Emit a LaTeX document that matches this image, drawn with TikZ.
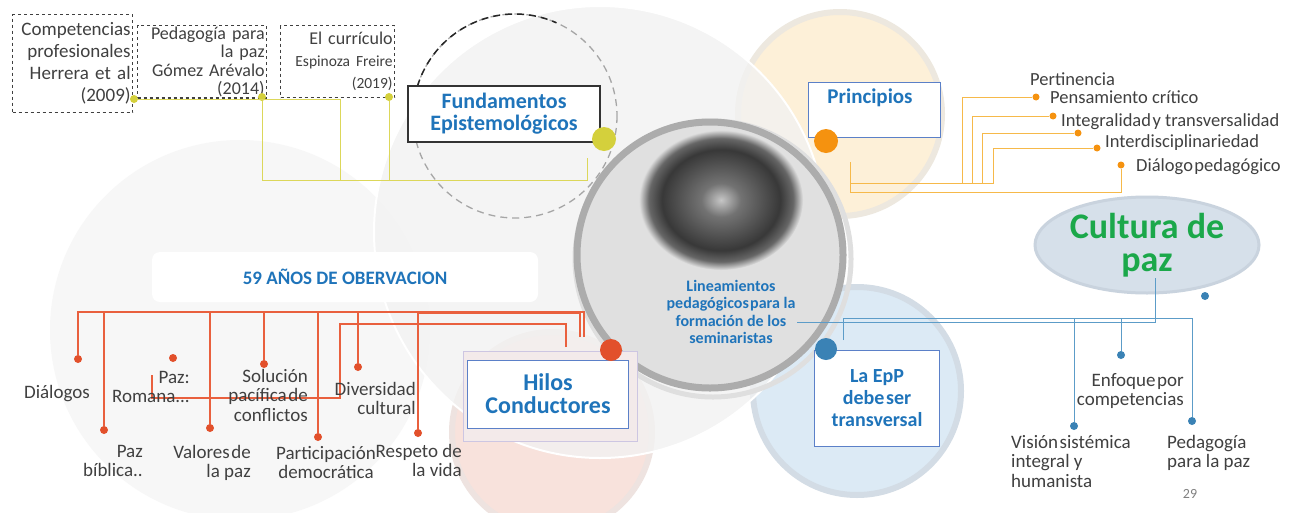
\documentclass[tikz,border=0pt]{standalone}
\usepackage{fontspec}
\setmainfont{Carlito}
\usetikzlibrary{positioning,shapes.geometric}
\definecolor{ttl}{HTML}{1F74BA}
\definecolor{txt}{HTML}{404040}
\definecolor{ylw}{HTML}{D4D03C}
\definecolor{ylwline}{HTML}{DCD75A}
\definecolor{org}{HTML}{F5920F}
\definecolor{orgline}{HTML}{F6B94A}
\definecolor{rd}{HTML}{E2502B}
\definecolor{rdline}{HTML}{E9603E}
\definecolor{bl}{HTML}{3A82B5}
\definecolor{blline}{HTML}{5C9CC8}
\definecolor{grn}{HTML}{1BA84A}
\definecolor{boxblue}{HTML}{5B80C8}
\definecolor{peach}{HTML}{FDF0D8}
\definecolor{peachring}{HTML}{EDE8DF}
\definecolor{sky}{HTML}{DCEAF5}
\definecolor{skyring}{HTML}{D3DCE5}
\definecolor{blush}{HTML}{F8E2DC}
\definecolor{blushring}{HTML}{EEE3E0}
\definecolor{fog}{HTML}{F2F2F2}
\definecolor{cgray}{HTML}{E0E0E0}
\definecolor{lilac}{HTML}{CDC6E2}
\definecolor{hiloback}{HTML}{F3EAEA}
\definecolor{cultfill}{HTML}{D6E0EA}
\definecolor{cultring}{HTML}{C9D3DE}
\pgfdeclareradialshading{photo}{\pgfpoint{0bp}{0bp}}{color(0bp)=(gray!45);color(6bp)=(black!55);color(18bp)=(black!78);color(22bp)=(black!60);color(25bp)=(cgray);color(50bp)=(cgray)}
\newcommand\ns{\hspace{0.08em}}
\begin{document}
\begin{tikzpicture}[x=1pt,y=-1pt,
  lbl/.style={text=txt,font=\fontsize{19}{19.5}\selectfont,inner sep=0pt},
  ttlbox/.style={draw=boxblue,fill=white,line width=1pt,text=ttl,font=\bfseries\fontsize{22}{23}\selectfont,align=center},
  refbox/.style={draw=black!75,dashed,line width=1.3pt,text=txt,align=right,inner xsep=2pt,inner ysep=1pt,anchor=north west},
  blob/.style={circle,fill=#1,inner sep=0pt,minimum size=8pt},
  bigblob/.style={circle,fill=#1,inner sep=0pt,minimum size=24pt},
  ylwl/.style={draw=ylwline,line width=1pt},
  orgl/.style={draw=orgline,line width=1pt},
  rdl/.style={draw=rdline,line width=1.1pt},
  bll/.style={draw=blline,line width=1pt}]
\useasboundingbox (0,0) rectangle (1297,512);
\fill[white] (0,0) rectangle (1297,512);
\fill[black!3] (240,330) circle[radius=190];
\filldraw[fill=peach,draw=peachring,line width=6pt] (840,114) circle[radius=102];
\filldraw[fill=sky,draw=skyring,line width=6pt] (857,391) circle[radius=104];
\filldraw[fill=blush,draw=blushring,line width=6pt] (552,432) circle[radius=100];
\fill[fog,opacity=.8] (600,232) circle[radius=226];
\draw[white,line width=2pt] (600,232) circle[radius=226];
\draw[gray!70,dashed,line width=1.3pt,dash pattern=on 7pt off 5pt] (515,116) circle[radius=102];
\draw[black!85,line width=1.5pt,dash pattern=on 7pt off 5pt] (515,116) ++(-163:102) arc[start angle=-163,end angle=-66,radius=102];
\draw[gray!25,line width=5pt] (713,259) circle[radius=138];
\filldraw[fill=cgray,draw=gray!65,line width=7pt] (710,255) circle[radius=133];
\shade[shading=photo] (721,200) ellipse[x radius=82,y radius=70];
\node[text=ttl,font=\bfseries\fontsize{16}{17.5}\selectfont,align=center] (cen) at (731,312) {Lineamientos\\pedagógicos\ns para la\\formación de los\\seminaristas};
\coordinate (fy) at (587,158);
\coordinate (yb) at (587,180);
\coordinate (pa) at (850,162);
\coordinate (pb) at (850,183);
\coordinate (ha) at (584,337);
\coordinate (ht) at (584,312);
\coordinate (hb) at (580,337);
\coordinate (hc) at (566,347);
\coordinate (hp) at (152,375);
\coordinate (ba) at (797,322);
\coordinate (bc) at (1155,278);
\coordinate (be) at (843,340);
\coordinate (bt) at (843,318);
\node[refbox,text width=116,minimum height=98,font=\fontsize{19}{22}\selectfont] (ref1) at (12,14) {Competencias\\profesionales\\Herrera et al\\(2009)};
\node[refbox,text width=125,minimum height=72,font=\fontsize{18}{18.5}\selectfont] (ref2) at (137,25) {Pedagogía para\\la paz\\Gómez Arévalo\\(2014)};
\node[refbox,text width=110,minimum height=72,font=\fontsize{18}{22}\selectfont] (ref3) at (280,25) {El currículo\\{\fontsize{15.5}{19}\selectfont Espinoza Freire}\\{\fontsize{15.5}{19}\selectfont (2019)}};
\node[blob=ylw] (y1) at (134,99) {};
\node[blob=ylw] (y2) at (262,97) {};
\node[blob=ylw] (y3) at (389,97) {};
\draw[ylwl] (fy) -- (yb) -| (y2);
\draw[ylwl] (y1) -- ++(206,0) |- (yb);
\draw[ylwl] (y3) |- (yb);
\node[draw=black!80,fill=white,line width=1.5pt,text=ttl,font=\bfseries\fontsize{22}{22}\selectfont,align=center,minimum width=192,minimum height=56] (fund) at (504,114) {Fundamentos\\Epistemológicos};
\node[bigblob=ylw] (fdot) at (604,139) {};
\node[blob=org,minimum size=7pt] (o1) at (1036,97) {};
\node[blob=org,minimum size=7pt] (o2) at (1053,116) {};
\node[blob=org,minimum size=7pt] (o3) at (1078,133) {};
\node[blob=org,minimum size=7pt] (o4) at (1097,148) {};
\node[blob=org,minimum size=7pt] (o5) at (1121,165) {};
\draw[orgl] (pa) -- ++(0,30) -| (o5);
\foreach \d/\dx in {o1/74,o2/81,o3/96,o4/104}
  \draw[orgl] (\d) -- ++(-\dx,0) |- (pb);
\node[ttlbox,minimum width=132,minimum height=55] (prin) at (874,110) {};
\node[text=ttl,font=\bfseries\fontsize{21}{23}\selectfont] (printxt) at (870,98) {Principios};
\node[bigblob=org] (pdot) at (826,141) {};
\node[lbl,font=\fontsize{18.5}{19}\selectfont,anchor=base west] (t1) at (1030,85) {Pertinencia};
\node[lbl,font=\fontsize{18.5}{19}\selectfont,anchor=base west] (t2) at (1050,103) {Pensamiento crítico};
\node[lbl,font=\fontsize{18.5}{19}\selectfont,anchor=base west] (t3) at (1061,126) {Integralidad\ns y transversalidad};
\node[lbl,font=\fontsize{18.5}{19}\selectfont,anchor=base west] (t4) at (1105,147) {Interdisciplinariedad};
\node[lbl,font=\fontsize{18.5}{19}\selectfont,anchor=base west] (t5) at (1136,171) {Diálogo\ns pedagógico};
\node[fill=white,rounded corners=8pt,minimum width=386,minimum height=50,text=ttl,font=\bfseries\fontsize{19}{20}\selectfont] (obs) at (345,277) {59 AÑOS DE OBERVACION};
\node[ellipse,fill=cultfill,draw=cultring,line width=3pt,inner sep=0pt,minimum width=224,minimum height=96,text=grn,font=\bfseries\fontsize{36}{33}\selectfont,align=center] (cult) at (1147,245) {Cultura de\\paz};
\node[blob=rd] (r1) at (78,359) {};
\node[blob=rd] (r2) at (104,430) {};
\node[blob=rd] (r3) at (173,358) {};
\node[blob=rd] (r4) at (210,428) {};
\node[blob=rd] (r5) at (264,364) {};
\node[blob=rd] (r6) at (318,437) {};
\node[blob=rd] (r7) at (358,367) {};
\node[blob=rd] (r8) at (418,433) {};
\draw[rdl] (ha) -- (ht) -| (r1);
\foreach \d in {r2,r4,r5,r6,r7,r8}
  \draw[rdl] (\d) |- (ht);
\draw[rdl] (hb) -- ++(0,-24) -| (r8);
\draw[rdl] (hc) -- ++(0,-23) -| ++(-226,74) -| (hp);
\node[draw=lilac,fill=hiloback,line width=1pt,minimum width=174,minimum height=90] (hilofr) at (550,396) {};
\node[ttlbox,minimum width=161,minimum height=68,font=\bfseries\fontsize{24}{23}\selectfont] (hilo) at (548,394) {Hilos\\Conductores};
\node[bigblob=rd,minimum size=22pt] (hdot) at (611,350) {};
\node[lbl] (tDia) at (57,394) {Diálogos};
\node[lbl,align=right,anchor=north east] (tRom) at (190,371) {Paz:\\Romana...};
\node[lbl,align=right,anchor=north east] (tSol) at (308,369) {Solución\\pacífica\ns de\\conflictos};
\node[lbl,align=right,anchor=north east] (tDiv) at (416,382) {Diversidad\\cultural};
\node[lbl,align=right,anchor=north east] (tBib) at (143,445) {Paz\\bíblica..};
\node[lbl,align=right,anchor=north east] (tVal) at (251,445) {Valores\ns de\\la paz};
\node[lbl,align=center,anchor=north] (tPar) at (326,446) {Participación\\democrática};
\node[lbl,align=right,anchor=north east] (tRes) at (462,444) {Respeto de\\la vida};
\node[blob=bl,minimum size=8pt] (b1) at (1205,296) {};
\node[blob=bl,minimum size=8pt] (b2) at (1121,355) {};
\node[blob=bl,minimum size=8pt] (b3) at (1074,426) {};
\node[blob=bl,minimum size=8pt] (b4) at (1192,421) {};
\draw[bll] (ba) -| (bc);
\draw[bll] (be) -- (bt) -| (b4);
\draw[bll] (b2) |- (bt);
\draw[bll] (b3) |- (bt);
\node[ttlbox,minimum width=125,minimum height=96,font=\bfseries\fontsize{20}{22}\selectfont] (epp) at (877,398) {La EpP\\debe\ns ser\\transversal};
\node[bigblob=bl,minimum size=22pt] (edot) at (826,349) {};
\node[lbl,align=right,anchor=north east] (tEnf) at (1184,373) {Enfoque\ns por\\competencias};
\node[lbl,align=left,anchor=north west] (tVis) at (1011,435) {Visión\ns sistémica\\integral y\\humanista};
\node[lbl,align=left,anchor=north west] (tPed) at (1167,435) {Pedagogía\\para la paz};
\node[text=gray,font=\fontsize{14}{14}\selectfont] (pg) at (1190,494) {29};
\end{tikzpicture}
\end{document}
